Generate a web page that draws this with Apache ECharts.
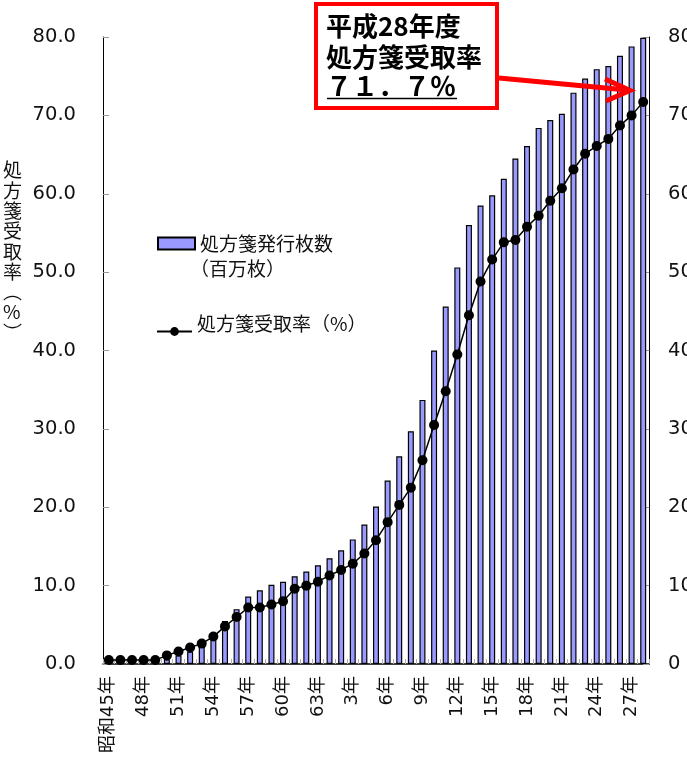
<!DOCTYPE html>
<html>
<head>
<meta charset="utf-8">
<script src="https://cdn.jsdelivr.net/npm/echarts@6/dist/echarts.min.js"></script>
<style>
html,body{margin:0;padding:0;background:#fff;}
#c{width:687px;height:761px;}
</style>
</head>
<body>
<div id="c"></div>
<script>
// 年（昭和45年〜平成28年）
const categories = [
  '昭和45年','46年','47年','48年','49年','50年','51年','52年','53年','54年',
  '55年','56年','57年','58年','59年','60年','61年','62年','63年','元年',
  '2年','3年','4年','5年','6年','7年','8年','9年','10年','11年',
  '12年','13年','14年','15年','16年','17年','18年','19年','20年','21年',
  '22年','23年','24年','25年','26年','27年','28年'
];
// 処方箋発行枚数（百万枚）
const sheetValues = [
  2, 2, 3, 3, 4, 6, 11, 16, 22, 32,
  55, 70, 86, 94, 101, 105, 112, 118, 126, 135,
  145, 159, 178, 201, 234, 265, 297, 337, 400, 456,
  506, 560, 585, 598, 619, 645, 661, 684, 694, 702,
  729, 747, 759, 763, 776, 788, 799
];
// 処方箋受取率（%）
const rateValues = [
  0.5, 0.5, 0.5, 0.5, 0.5, 1.1, 1.6, 2.1, 2.6, 3.5,
  4.8, 6.0, 7.2, 7.2, 7.6, 8.0, 9.6, 10.0, 10.5, 11.3,
  12.0, 12.8, 14.1, 15.8, 18.1, 20.3, 22.5, 26.0, 30.5, 34.8,
  39.5, 44.5, 48.8, 51.6, 53.8, 54.1, 55.8, 57.2, 59.1, 60.7,
  63.1, 65.1, 66.1, 67.0, 68.7, 70.0, 71.7
];
const rateAxis = { min: 0, max: 80, interval: 10 };
const sheetAxis = { min: 0, max: 800, interval: 100 };
const barName = '処方箋発行枚数';
const barUnit = '（百万枚）';
const lineName = '処方箋受取率（%）';
const yAxisTitle = ['処','方','箋','受','取','率','︵','%','︶'];
const calloutLines = ['平成28年度', '処方箋受取率', '７１．７％'];

const FONT = "'DejaVu Sans', 'Noto Sans CJK JP', sans-serif";
const CJK = "'Noto Sans CJK JP', 'DejaVu Sans', sans-serif";

const chart = echarts.init(document.getElementById('c'), null, { renderer: 'canvas' });

chart.setOption({
  animation: false,
  backgroundColor: '#ffffff',
  grid: { left: 103, right: 38, top: 37, bottom: 97, containLabel: false, outerBoundsMode: 'none' },
  legend: [
    {
      data: [{ name: barName, icon: 'rect' }],
      left: 152, top: 229,
      itemWidth: 37, itemHeight: 12,
      textStyle: { fontFamily: CJK, fontSize: 19, color: '#111' }
    },
    {
      data: [{ name: lineName }],
      left: 151, top: 309,
      itemWidth: 35, itemHeight: 11,
      formatter: n => '{t|' + n + '}',
      textStyle: {
        fontFamily: CJK, fontSize: 19, color: '#111',
        rich: { t: { fontFamily: CJK, fontSize: 19, color: '#111', padding: [0, 0, 16, 0] } }
      }
    }
  ],
  xAxis: {
    type: 'category',
    data: categories,
    boundaryGap: true,
    axisLine: { show: true, lineStyle: { color: '#000', width: 1.5 } },
    axisTick: { show: true, inside: true, interval: 0, length: 5, lineStyle: { color: '#b0b0b0', width: 1 } },
    axisLabel: { interval: 2, rotate: 90, margin: 12, padding: [8, 0, 0, 0], fontFamily: FONT, fontSize: 18, color: '#111' },
    splitLine: { show: false }
  },
  yAxis: [
    {
      type: 'value',
      min: rateAxis.min, max: rateAxis.max, interval: rateAxis.interval,
      position: 'left',
      axisLine: { show: true, lineStyle: { color: '#000', width: 1 } },
      axisTick: { show: true, inside: true, length: 6, lineStyle: { color: '#999' } },
      axisLabel: { margin: 27, fontFamily: FONT, fontSize: 19.5, color: '#111', formatter: v => v.toFixed(1) },
      splitLine: { show: false }
    },
    {
      type: 'value',
      min: sheetAxis.min, max: sheetAxis.max, interval: sheetAxis.interval,
      position: 'right',
      axisLine: { show: true, lineStyle: { color: '#000', width: 1 } },
      axisTick: { show: true, inside: true, length: 6, lineStyle: { color: '#999' } },
      axisLabel: { margin: 19, fontFamily: FONT, fontSize: 19.5, color: '#111', formatter: v => String(Math.round(v)) },
      splitLine: { show: false }
    }
  ],
  series: [
    {
      name: barName,
      type: 'bar',
      yAxisIndex: 1,
      data: sheetValues,
      barWidth: 6,
      itemStyle: { color: '#9999ff', borderColor: '#000', borderWidth: 1.2 },
      z: 2
    },
    {
      name: lineName,
      type: 'line',
      yAxisIndex: 0,
      data: rateValues,
      symbol: 'circle',
      symbolSize: 10,
      showAllSymbol: true,
      itemStyle: { color: '#000' },
      lineStyle: { color: '#000', width: 1.5 },
      z: 5
    }
  ],
  graphic: [
    {
      type: 'text', left: 3, top: 160,
      style: { text: yAxisTitle.join('\n'), font: '19px ' + CJK, fill: '#111', lineHeight: 20.3, align: 'center' }
    },
    {
      type: 'text', left: 190, top: 259,
      style: { text: barUnit, font: '19px ' + CJK, fill: '#111' }
    },
    {
      type: 'rect',
      shape: { x: 316, y: 4, width: 181, height: 104 },
      style: { fill: '#ffffff', stroke: '#ff0000', lineWidth: 4 },
      z: 10
    },
    {
      type: 'text', x: 326, y: 26,
      style: { text: calloutLines[0], font: 'bold 26px ' + CJK, fill: '#000', verticalAlign: 'middle' },
      z: 11
    },
    {
      type: 'text', x: 326, y: 57,
      style: { text: calloutLines[1], font: 'bold 26px ' + CJK, fill: '#000', verticalAlign: 'middle' },
      z: 11
    },
    {
      type: 'text', x: 326, y: 86,
      style: { text: calloutLines[2], font: 'bold 26px ' + CJK, fill: '#000', verticalAlign: 'middle' },
      z: 11
    },
    {
      type: 'line',
      shape: { x1: 327, y1: 98.5, x2: 457, y2: 98.5 },
      style: { stroke: '#000', lineWidth: 1.5 },
      z: 11
    },
    {
      type: 'line',
      shape: { x1: 499, y1: 78, x2: 627, y2: 90 },
      style: { stroke: '#ff0000', lineWidth: 5 },
      z: 12
    },
    {
      type: 'polyline',
      shape: { points: [[605, 79], [630, 90.5], [606, 101]] },
      style: { stroke: '#ff0000', lineWidth: 5, fill: null, lineJoin: 'miter' },
      z: 12
    }
  ]
});
</script>
</body>
</html>
